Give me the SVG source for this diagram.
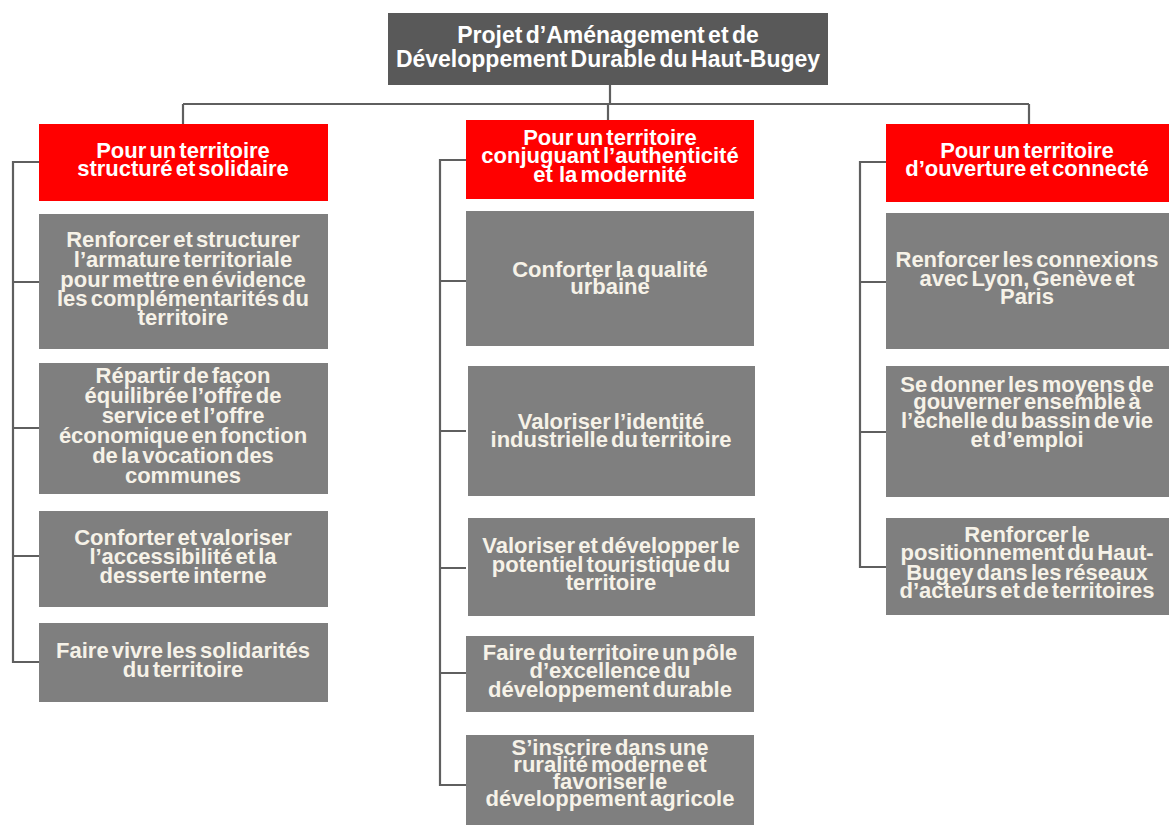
<svg xmlns="http://www.w3.org/2000/svg" width="1169" height="825" viewBox="0 0 1169 825">
<style>
.top{fill:#595959}
.hdr{fill:#ff0000}
.box{fill:#7f7f7f}
.t{font-family:"Liberation Sans",Arial,sans-serif;font-weight:bold;font-size:22px;letter-spacing:0px;word-spacing:-3px;text-anchor:middle}
.tt{font-size:23px}
.w{fill:#ffffff}
.c{fill:#f6f2e8}
.ln{fill:none;stroke:#5f5f5f;stroke-width:2.2}
</style>
<rect width="1169" height="825" fill="#ffffff"/>
<g id="connectors">
<path class="ln" d="M610 85V104M183 104H1029M183 104V124M608 104V120M1029 104V124"/>
<path class="ln" d="M39 162H13V662H39M13 282H39M13 428H39M13 556H39"/>
<path class="ln" d="M466 160H440V785H466M440 281H466M440 431H466M440 568H466M440 673H466"/>
<path class="ln" d="M886 162H860V567H886M860 282H886M860 432H886"/>
</g>
<g id="root">
<rect class="top" x="388" y="13" width="440" height="72"/>
<text class="t tt w" x="608" y="43">Projet d’Aménagement et de</text>
<text class="t tt w" x="608" y="67">Développement Durable du Haut-Bugey</text>
</g>
<g id="h1">
<rect class="hdr" x="39" y="124" width="289" height="77"/>
<text class="t w" x="183" y="158">Pour un territoire</text>
<text class="t w" x="183" y="176">structuré et solidaire</text>
</g>
<g id="h2">
<rect class="hdr" x="466" y="120" width="288" height="79"/>
<text class="t w" x="610" y="145">Pour un territoire</text>
<text class="t w" x="610" y="163">conjuguant l’authenticité</text>
<text class="t w" x="610" y="182" xml:space="preserve">et  la modernité</text>
</g>
<g id="h3">
<rect class="hdr" x="886" y="124" width="283" height="78"/>
<text class="t w" x="1027" y="158">Pour un territoire</text>
<text class="t w" x="1027" y="176">d’ouverture et connecté</text>
</g>
<g id="l1">
<rect class="box" x="39" y="214" width="289" height="135"/>
<text class="t c" x="183" y="247">Renforcer et structurer</text>
<text class="t c" x="183" y="267">l’armature territoriale</text>
<text class="t c" x="183" y="287">pour mettre en évidence</text>
<text class="t c" x="183" y="306">les complémentarités du</text>
<text class="t c" x="183" y="325">territoire</text>
</g>
<g id="l2">
<rect class="box" x="39" y="363" width="289" height="131"/>
<text class="t c" x="183" y="383">Répartir de façon</text>
<text class="t c" x="183" y="403">équilibrée l’offre de</text>
<text class="t c" x="183" y="423">service et l’offre</text>
<text class="t c" x="183" y="443">économique en fonction</text>
<text class="t c" x="183" y="463">de la vocation des</text>
<text class="t c" x="183" y="483">communes</text>
</g>
<g id="l3">
<rect class="box" x="39" y="511" width="289" height="96"/>
<text class="t c" x="183" y="545">Conforter et valoriser</text>
<text class="t c" x="183" y="564">l’accessibilité et la</text>
<text class="t c" x="183" y="583">desserte interne</text>
</g>
<g id="l4">
<rect class="box" x="39" y="623" width="289" height="79"/>
<text class="t c" x="183" y="658">Faire vivre les solidarités</text>
<text class="t c" x="183" y="677">du territoire</text>
</g>
<g id="m1">
<rect class="box" x="466" y="211" width="288" height="135"/>
<text class="t c" x="610" y="277">Conforter la qualité</text>
<text class="t c" x="610" y="294">urbaine</text>
</g>
<g id="m2">
<rect class="box" x="468" y="366" width="287" height="130"/>
<text class="t c" x="611" y="429">Valoriser l’identité</text>
<text class="t c" x="611" y="447">industrielle du territoire</text>
</g>
<g id="m3">
<rect class="box" x="468" y="518" width="287" height="98"/>
<text class="t c" x="611" y="553">Valoriser et développer le</text>
<text class="t c" x="611" y="572">potentiel touristique du</text>
<text class="t c" x="611" y="590">territoire</text>
</g>
<g id="m4">
<rect class="box" x="466" y="636" width="288" height="76"/>
<text class="t c" x="610" y="660">Faire du territoire un pôle</text>
<text class="t c" x="610" y="678">d’excellence du</text>
<text class="t c" x="610" y="697">développement durable</text>
</g>
<g id="m5">
<rect class="box" x="466" y="735" width="288" height="95"/>
<text class="t c" x="610" y="755">S’inscrire dans une</text>
<text class="t c" x="610" y="772">ruralité moderne et</text>
<text class="t c" x="610" y="789">favoriser le</text>
<text class="t c" x="610" y="806">développement agricole</text>
</g>
<g id="r1">
<rect class="box" x="886" y="213" width="283" height="136"/>
<text class="t c" x="1027" y="267">Renforcer les connexions</text>
<text class="t c" x="1027" y="286">avec Lyon, Genève et</text>
<text class="t c" x="1027" y="304">Paris</text>
</g>
<g id="r2">
<rect class="box" x="886" y="366" width="283" height="131"/>
<text class="t c" x="1027" y="392">Se donner les moyens de</text>
<text class="t c" x="1027" y="409">gouverner ensemble à</text>
<text class="t c" x="1027" y="428">l’échelle du bassin de vie</text>
<text class="t c" x="1027" y="447">et d’emploi</text>
</g>
<g id="r3">
<rect class="box" x="886" y="518" width="283" height="97"/>
<text class="t c" x="1027" y="542">Renforcer le</text>
<text class="t c" x="1027" y="560">positionnement du Haut-</text>
<text class="t c" x="1027" y="580">Bugey dans les réseaux</text>
<text class="t c" x="1027" y="598">d’acteurs et de territoires</text>
</g>
</svg>
